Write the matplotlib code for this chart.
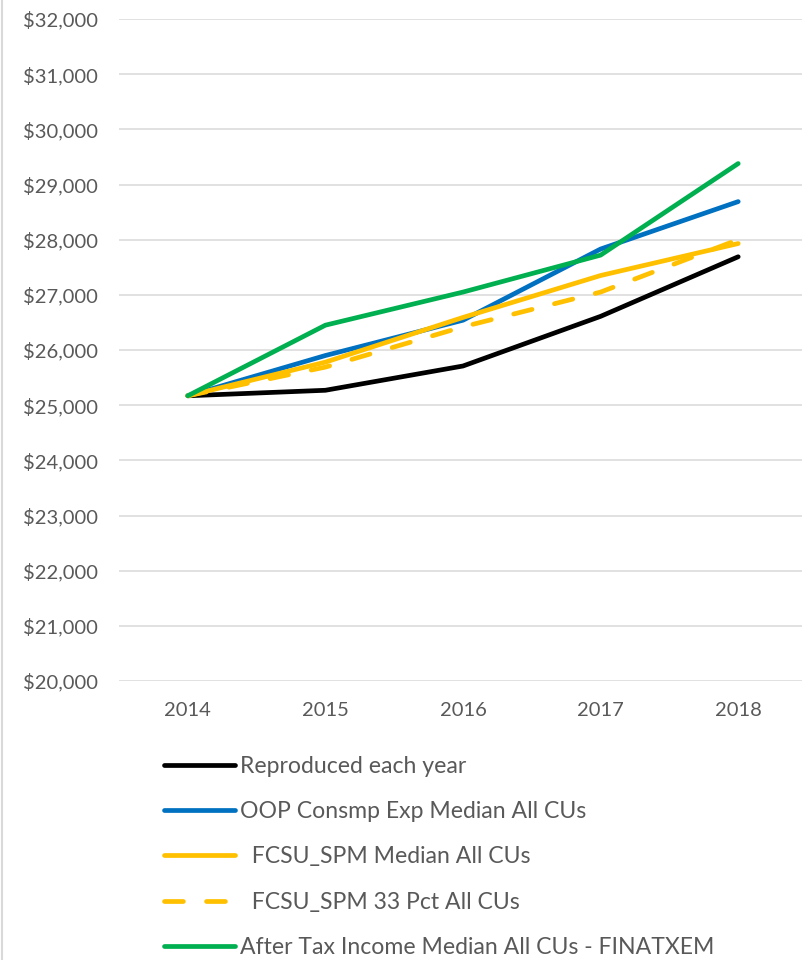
import matplotlib.pyplot as plt
from matplotlib.lines import Line2D
from matplotlib.ticker import FuncFormatter

years = ["2014", "2015", "2016", "2017", "2018"]
reproduced = [25170, 25270, 25710, 26610, 27690]
oop_median = [25170, 25900, 26540, 27830, 28690]
fcsu_median = [25170, 25780, 26590, 27350, 27930]
fcsu_33pct = [25170, 25690, 26420, 27050, 28000]
after_tax = [25170, 26450, 27050, 27720, 29380]

labels = [
    "Reproduced each year",
    "OOP Consmp Exp Median All CUs",
    "  FCSU_SPM Median All CUs",
    "  FCSU_SPM 33 Pct All CUs",
    "After Tax Income Median All CUs - FINATXEM",
]

plt.rcParams["font.family"] = ["Lato", "DejaVu Sans"]
text_color = "#595959"

fig = plt.figure(figsize=(8.03, 9.6), dpi=100)
W, H = 803, 960
ax = fig.add_axes([119 / W, (H - 681) / H, (807 - 119) / W, (681 - 19) / H])

x = range(len(years))
lw = 3.4
dash = (4.0, 4.9)
ax.plot(x, reproduced, color="#000000", lw=lw, solid_capstyle="round", zorder=3)
ax.plot(x, oop_median, color="#0070C0", lw=lw, solid_capstyle="round", zorder=3)
ax.plot(x, fcsu_median, color="#FFC000", lw=lw, solid_capstyle="round", zorder=3)
ax.plot(x, fcsu_33pct, color="#FFC000", lw=lw, dashes=dash,
        dash_capstyle="round", zorder=3)
ax.plot(x, after_tax, color="#00B050", lw=lw, solid_capstyle="round", zorder=4)

ax.set_xlim(-0.5, 4.5)
ax.set_ylim(20000, 32000)
ax.set_yticks(range(20000, 32001, 1000))
ax.yaxis.set_major_formatter(FuncFormatter(lambda v, p: f"${v:,.0f}"))
ax.set_xticks(list(x))
ax.set_xticklabels(years)
ax.grid(axis="y", color="#D9D9D9", lw=1.1)
ax.set_axisbelow(True)
for s in ax.spines.values():
    s.set_visible(False)
ax.tick_params(length=0, labelsize=14.5, labelcolor=text_color)
ax.tick_params(axis="y", pad=15)
ax.tick_params(axis="x", pad=15)

# chart-area border on the left
fig.add_artist(Line2D([2.5 / W, 2.5 / W], [0, 1], color="#D9D9D9", lw=1.5))

handles = [
    Line2D([], [], color="#000000", lw=lw, solid_capstyle="round"),
    Line2D([], [], color="#0070C0", lw=lw, solid_capstyle="round"),
    Line2D([], [], color="#FFC000", lw=lw, solid_capstyle="round"),
    Line2D([], [], color="#FFC000", lw=lw, dashes=dash, dash_capstyle="round"),
    Line2D([], [], color="#00B050", lw=lw, solid_capstyle="round"),
]
leg = fig.legend(handles, labels, loc="upper left", bbox_to_anchor=(164 / W, (H - 756) / H),
                 frameon=False, fontsize=16.6, handlelength=3.1, handletextpad=0.2,
                 labelspacing=1.05, borderpad=0, borderaxespad=0)
for t in leg.get_texts():
    t.set_color(text_color)

fig.savefig("out.png", dpi=100)
